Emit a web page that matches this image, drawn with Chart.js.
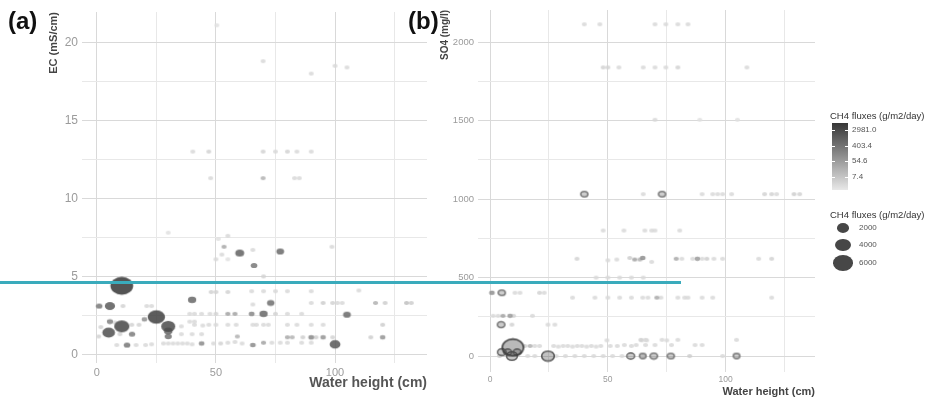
<!DOCTYPE html>
<html lang="en">
<head>
<meta charset="utf-8">
<title>CH4 fluxes against water height</title>
<script src="https://cdn.jsdelivr.net/npm/chart.js@4.4.1/dist/chart.umd.min.js"></script>
<style>
  html, body { margin: 0; padding: 0; background: #fff; }
  body { position: relative; width: 932px; height: 399px; overflow: hidden;
         font-family: "Liberation Sans", Arial, sans-serif; }
  canvas { position: absolute; top: 0; }
  #chartA { left: 0; }
  #chartB { left: 430px; }
  .tag { position: absolute; top: 9px; font-size: 24px; line-height: 24px; font-weight: bold; color: #111; }
  #highlight { position: absolute; left: 0; top: 281px; width: 681px; height: 3px; background: #3aabbc; }
  .lg-title { position: absolute; left: 830px; font-size: 9.5px; line-height: 11px; color: #333; white-space: nowrap; }
  .lg-label { position: absolute; font-size: 8px; line-height: 10px; color: #555; white-space: nowrap; }
  #bar { position: absolute; left: 832px; top: 123px; width: 16px; height: 67px; }
  .tickmark { position: absolute; width: 3px; height: 1px; background: #fff; }
  .dot { position: absolute; border-radius: 50%; background: #474747; }
</style>
</head>
<body>
<canvas id="chartA" width="440" height="399"></canvas>
<canvas id="chartB" width="502" height="399"></canvas>
<div class="tag" style="left:8px">(a)</div>
<div class="tag" style="left:408px">(b)</div>
<div id="highlight"></div>
<div id="legend"></div>
<script>
// ---------- Panel (a): EC against water height ----------
const waterA = [50.4,69.8,90,100,105, 40.3,47,69.8,75,80,84,90, 47.8,69.8,83,85,
  30,51,55,53.4,50,52.5,55,60,65.5,77,98.7,66,70, 10.5, 48,50,55,65,70,75,80,90,110, 40,
  1,5.5,11,21,23,65.5,73,90,95,99,101,103,117,121,130,132,
  25,39,41,44,47.5,50,55,58,65,70,75,80,86,105, 20,5.5,7.5,39,41, 30,10.5, 1.7,14.7,17.7,35.5,
  41,44.5,47,50,55,58.5,65.5,67,70,72,80,84,90,95,120,
  5,9.7,14.8,30,30,0.8,35.5,40,44, 59,80,82,86.5,90,92,95,99,115,120,
  12.7,8.4,16.5,20.5,23,28,30,32,34,36,38,40,44,49,52,55,58,61,65.5,70,73.5,77,80,86,90,100];
const ecA = [21.1,18.8,18.0,18.5,18.4, 13.0,13.0,13.0,13.0,13.0,13.0,13.0, 11.3,11.3,11.3,11.3,
  7.8,7.4,7.6,6.9,6.1,6.4,6.1,6.5,6.7,6.6,6.9,5.7,5.0, 4.4, 4.0,4.0,4.0,4.05,4.05,4.05,4.05,4.05,4.1, 3.5,
  3.1,3.1,3.1,3.1,3.1,3.2,3.3,3.3,3.3,3.3,3.3,3.3,3.3,3.3,3.3,3.3,
  2.4,2.6,2.6,2.6,2.6,2.6,2.6,2.6,2.6,2.6,2.6,2.6,2.6,2.55, 2.25,2.1,2.05,2.1,2.1, 1.8,1.8, 1.75,1.9,1.9,1.8,
  1.9,1.85,1.9,1.9,1.9,1.9,1.9,1.9,1.9,1.9,1.9,1.9,1.9,1.9,1.9,
  1.4,1.3,1.3,1.5,1.15,1.15,1.3,1.3,1.3, 1.15,1.1,1.1,1.1,1.1,1.1,1.1,1.1,1.1,1.1,
  0.6,0.6,0.6,0.6,0.65,0.7,0.7,0.7,0.7,0.7,0.7,0.65,0.7,0.7,0.7,0.75,0.8,0.7,0.6,0.75,0.75,0.75,0.75,0.75,0.75,0.65];
const fluxA = [2,3,3,3,3, 3,4,4,3,4,3,3, 3,20,3,3,
  2,2,3,30,3,3,2,900,3,600,3,300,4, 8000, 4,4,4,3,3,3,3,3,3, 700,
  300,1300,4,3,3,3,500,3,5,4,3,3,20,5,10,5,
  4500,3,3,3,3,4,40,40,150,700,4,3,3,600, 100,200,3,3,3, 2800,3400, 4,4,4,3,
  3,3,3,3,3,3,3,3,3,3,3,3,3,3,5,
  2200,4,250,800,400,4,3,3,3, 20,30,20,5,150,5,80,4,5,80,
  300,3,3,3,3,3,3,3,3,3,3,3,120,3,4,3,3,3,120,40,3,3,3,3,3,1500];

// ---------- Panel (b): SO4 against water height ----------
const waterB = [40,46.6,70,74.6,79.7,84,
  48,50,54.7,65,70,74.6,79.7,109,
  70,89,105,
  40,65,73,90,94.5,96.6,98.7,102.5,116.5,119.5,121.6,129,131.4,
  48,56.8,65.7,68.6,70,80.5,
  36.9,50,53.8,59.3,61.4,63.6,64.8,68.6,79,81.4,86,88,90,92,95,98.7,114,119.5,
  45,50,55,60,65,
  0.8,5,10.6,12.7,21,23,
  35,44.5,50,55,60,64.8,67,70.8,72.5,79.7,82.6,84,90,94.5,119.5,
  1.3,3.4,5.5,8.5,10,18,
  4.7,9.3,24.6,27.5,
  49.6,64,64.4,66,66.5,73,75,79.7,104.6,
  9.7,5,7.5,11.5,14.8,17,19,21,27,29,31,33,35,37,39,41,43,45,47,51,54,57,60,62,66,70,77,87,90,
  9.3,24.6,4,16,19,28,32,36,40,44,48,52,56,59.7,64.8,69.5,65,76.7,84.7,98.7,104.6];
const so4B = [2115,2115,2115,2115,2115,2115,
  1840,1840,1840,1840,1840,1840,1840,1840,
  1506,1506,1506,
  1032,1032,1032,1032,1032,1032,1032,1032,1032,1032,1032,1032,1032,
  800,800,800,800,800,800,
  620,610,615,625,615,615,625,600,620,620,620,620,620,620,620,620,620,620,
  500,500,500,500,500,
  403,403,403,403,403,403,
  372,372,372,372,372,372,372,372,372,372,372,372,372,372,372,
  256,256,256,256,256,256,
  200,200,200,200,
  100,103,100,103,100,103,100,103,103,
  55,25,25,25,64,64,64,64,64,60,64,64,60,64,64,60,64,60,64,64,64,70,64,70,70,70,70,70,70,
  0,0,0,0,0,0,0,0,0,0,0,0,0,0,0,0,0,0,0,0,0];
const fluxB = [3,3,3,3,3,3,
  4,4,3,3,3,3,4,3,
  3,2,2,
  400,3,400,3,3,3,3,3,4,4,3,5,4,
  3,3,3,3,3,3,
  4,3,3,5,40,20,100,3,30,3,3,60,3,5,3,3,3,4,
  3,3,3,3,3,
  100,400,3,3,4,3,
  3,3,3,3,3,3,3,30,3,3,3,3,3,3,3,
  3,3,40,60,4,3,
  500,4,3,3,
  3,4,3,3,3,3,3,3,3,
  7000,800,600,600,5,20,3,3,3,3,3,3,3,3,3,3,3,3,3,3,3,3,3,3,3,3,3,3,3,
  1500,2200,5,3,3,3,3,3,3,3,3,3,3,600,300,500,3,400,5,3,300];

// Axis grids and labelled ticks
const gridWater = [0, 25, 50, 75, 100, 125];
const labelWater = [0, 50, 100];
const gridEC = [0, 2.5, 5, 7.5, 10, 12.5, 15, 17.5, 20];
const labelEC = [0, 5, 10, 15, 20];
const gridSO4 = [0, 250, 500, 750, 1000, 1250, 1500, 1750, 2000];
const labelSO4 = [0, 500, 1000, 1500, 2000];

// Legend breaks
const colourBreaks = [2981.0, 403.4, 54.6, 7.4];
const sizeBreaks = [2000, 4000, 6000];
const FLUX_MIN = 1.4, FLUX_MAX = 7300;

const FONT = '"Liberation Sans", Arial, sans-serif';
const STRETCH = 1.27;

// log-scaled grey ramp for the flux colour
function fluxT(f) {
  const t = (Math.log(f) - Math.log(FLUX_MIN)) / (Math.log(FLUX_MAX) - Math.log(FLUX_MIN));
  return Math.max(0, Math.min(1, t));
}
function shade(f) { return Math.round(232 - 178 * fluxT(f)); }
// area-proportional marker radius
function radiusY(f) { return Math.sqrt(4 + 0.0095 * f); }

const markerCache = {};
function marker(f, ring) {
  const ry = radiusY(f), rx = ry * STRETCH, g = shade(f);
  const key = ry.toFixed(2) + '_' + g + '_' + (ring ? 1 : 0);
  if (markerCache[key]) return markerCache[key];
  const c = document.createElement('canvas');
  c.width = Math.ceil(rx * 2 + 3);
  c.height = Math.ceil(ry * 2 + 3);
  const ctx = c.getContext('2d');
  ctx.beginPath();
  ctx.ellipse(c.width / 2, c.height / 2, rx, ry, 0, 0, Math.PI * 2);
  if (ring) {
    ctx.fillStyle = `rgba(${g},${g},${g},0.35)`;
    ctx.fill();
    ctx.lineWidth = 1.6;
    ctx.strokeStyle = `rgba(${g},${g},${g},0.9)`;
    ctx.stroke();
  } else {
    ctx.fillStyle = `rgba(${g},${g},${g},0.85)`;
    ctx.fill();
  }
  markerCache[key] = c;
  return c;
}

function buildPoints(xs, ys, fs) {
  const n = Math.min(xs.length, ys.length, fs.length);
  const pts = [];
  for (let i = 0; i < n; i++) pts.push({ x: xs[i], y: ys[i], f: fs[i] });
  return pts.sort((a, b) => a.f - b.f);
}

function axis(o) {
  return {
    type: 'linear', position: o.position, min: o.min, max: o.max,
    afterBuildTicks: s => { s.ticks = o.grid.map(v => ({ value: v })); },
    afterFit: s => { if (o.position === 'left') s.width = o.size; else s.height = o.size; },
    ticks: {
      autoSkip: false, maxRotation: 0, padding: o.tickPad, color: '#9b9b9b',
      font: { family: FONT, size: o.tickSize },
      callback: v => o.labels.includes(v) ? String(v) : ''
    },
    grid: {
      drawTicks: false, lineWidth: 1,
      color: c => (c.tick && o.labels.includes(c.tick.value)) ? '#d9d9d9' : '#e8e8e8'
    },
    border: { display: false },
    title: {
      display: true, text: o.title, align: 'end', color: o.titleColor,
      font: { family: FONT, size: o.titleSize, weight: 'bold' }, padding: o.titlePad
    }
  };
}

function makeChart(id, points, ring, padding, xAxis, yAxis) {
  return new Chart(document.getElementById(id), {
    type: 'scatter',
    data: { datasets: [{
      data: points,
      pointStyle: c => c.raw ? marker(c.raw.f, ring && c.raw.f >= 200) : 'circle',
      pointRadius: 3, pointHoverRadius: 3
    }] },
    options: {
      responsive: false, animation: false,
      layout: { padding },
      plugins: { legend: { display: false }, tooltip: { enabled: false } },
      scales: { x: axis(xAxis), y: axis(yAxis) }
    }
  });
}

makeChart('chartA', buildPoints(waterA, ecA, fluxA), false,
  { left: 47, right: 13, top: 12, bottom: 0 },
  { position: 'bottom', min: -6.2, max: 138.6, grid: gridWater, labels: labelWater, size: 36,
    tickPad: 3, tickSize: 11, title: 'Water height (cm)', titleColor: '#555', titleSize: 14,
    titlePad: { top: 0, bottom: 7 } },
  { position: 'left', min: -0.55, max: 21.95, grid: gridEC, labels: labelEC, size: 35,
    tickPad: 4, tickSize: 12, title: 'EC (mS/cm)', titleColor: '#444', titleSize: 11,
    titlePad: { top: 0, bottom: 0 } });

makeChart('chartB', buildPoints(waterB, so4B, fluxB), true,
  { left: 9, right: 117, top: 10, bottom: 0 },
  { position: 'bottom', min: -5.1, max: 137.9, grid: gridWater, labels: labelWater, size: 27,
    tickPad: 3, tickSize: 8.5, title: 'Water height (cm)', titleColor: '#444', titleSize: 11,
    titlePad: { top: 0, bottom: 0 } },
  { position: 'left', min: -102, max: 2206, grid: gridSO4, labels: labelSO4, size: 39,
    tickPad: 4, tickSize: 9.5, title: 'SO4 (mg/l)', titleColor: '#444', titleSize: 10,
    titlePad: { top: 0, bottom: 0 } });

// ---------- Legends ----------
const legend = document.getElementById('legend');
function add(html) { legend.insertAdjacentHTML('beforeend', html); }

const barTop = 123, barH = 67;
add(`<div class="lg-title" style="top:${barTop - 13}px">CH4 fluxes (g/m2/day)</div>`);
const stops = [];
for (let i = 0; i <= 10; i++) {
  const f = Math.exp(Math.log(FLUX_MIN) + (Math.log(FLUX_MAX) - Math.log(FLUX_MIN)) * i / 10);
  const g = shade(f);
  stops.push(`rgb(${g},${g},${g}) ${i * 10}%`);
}
add(`<div id="bar" style="background:linear-gradient(to top, ${stops.join(',')})"></div>`);
colourBreaks.forEach(v => {
  const y = barTop + barH * (1 - fluxT(v));
  add(`<div class="tickmark" style="left:832px;top:${y}px"></div>`);
  add(`<div class="tickmark" style="left:845px;top:${y}px"></div>`);
  add(`<div class="lg-label" style="left:852px;top:${y - 5}px">${v.toFixed(1)}</div>`);
});

add(`<div class="lg-title" style="top:209px">CH4 fluxes (g/m2/day)</div>`);
const sizeRows = [228, 245, 263];
sizeBreaks.forEach((v, i) => {
  const ry = radiusY(v), rx = ry * STRETCH, cy = sizeRows[i];
  add(`<div class="dot" style="left:${843 - rx}px;top:${cy - ry}px;width:${2 * rx}px;height:${2 * ry}px"></div>`);
  add(`<div class="lg-label" style="left:859px;top:${cy - 5}px">${v}</div>`);
});
</script>
</body>
</html>
